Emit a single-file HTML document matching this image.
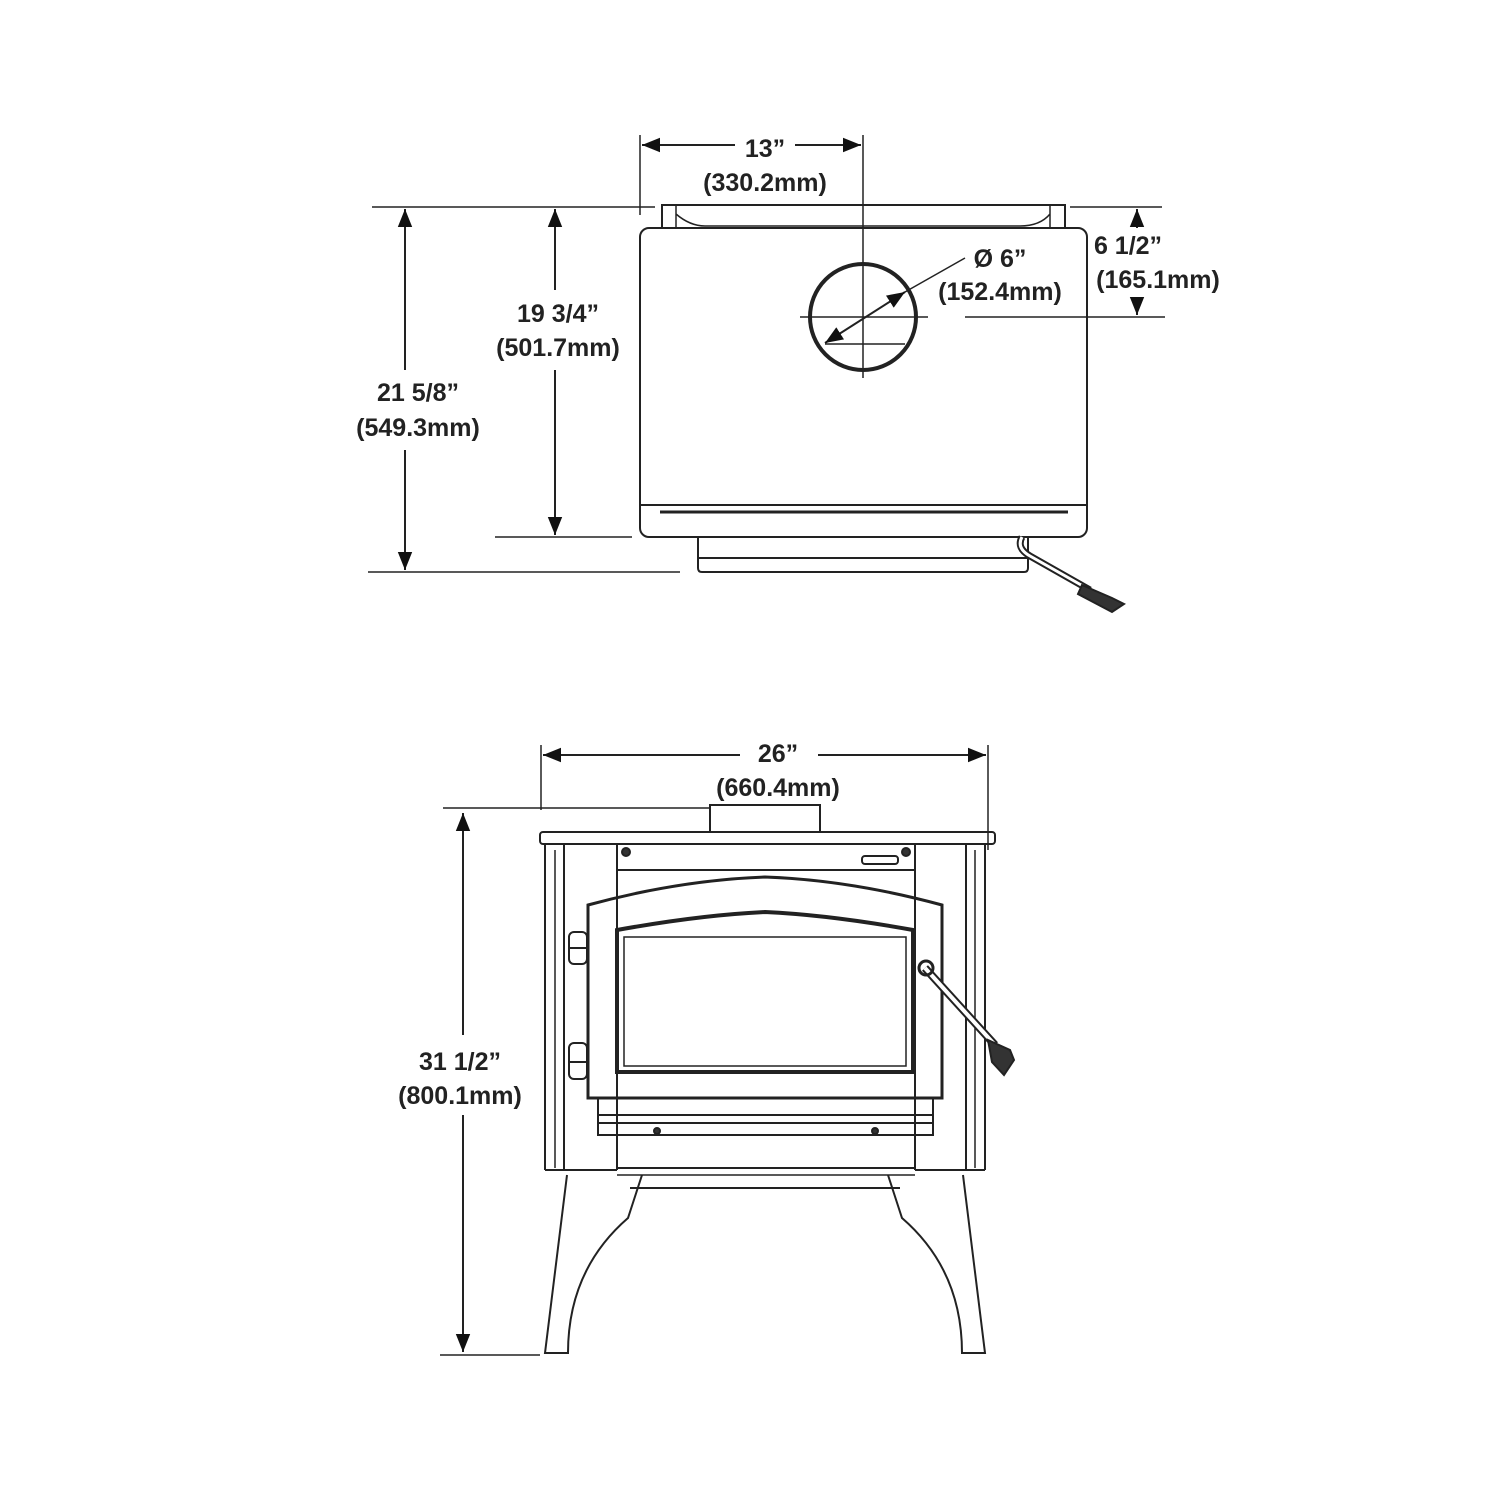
<!DOCTYPE html>
<html><head><style>html,body{margin:0;padding:0;background:#fff}svg{display:block}text{font-family:"Liberation Sans",Arial,sans-serif;font-weight:bold;font-size:25px;fill:#222;text-anchor:middle}</style></head>
<body>
<svg width="1500" height="1500" viewBox="0 0 1500 1500" xmlns="http://www.w3.org/2000/svg">
<defs>
<marker id="a" viewBox="0 0 10 10" refX="10" refY="5" markerWidth="9" markerHeight="9" orient="auto-start-reverse"><path d="M0,1 L10,5 L0,9 z" fill="#111"/></marker>
</defs>
<g stroke="#222" fill="none" stroke-width="2">
<!-- TOP VIEW -->
<path d="M662,228 V205 H1065 V228"/>
<path d="M676,206 V228 M1050,206 V228 M676,214 Q690,226 705,226 H1020 Q1040,226 1050,214" stroke-width="1.5"/>
<rect x="640" y="228" width="447" height="309" rx="9"/>
<line x1="640" y1="505" x2="1087" y2="505"/>
<line x1="660" y1="512" x2="1068" y2="512" stroke-width="3"/>
<path d="M698,537 V568 Q698,572 702,572 H1024 Q1028,572 1028,568 V537"/>
<line x1="698" y1="558" x2="1028" y2="558"/>
<circle cx="863" cy="317" r="53" stroke-width="4"/>
<line x1="800" y1="317" x2="928" y2="317" stroke-width="1.5"/>
<line x1="863" y1="135" x2="863" y2="378" stroke-width="1.5"/>
<line x1="825" y1="344" x2="905" y2="344" stroke-width="1.5"/>
<line x1="825" y1="343" x2="905" y2="292" marker-start="url(#a)" marker-end="url(#a)"/>
<line x1="905" y1="292" x2="965" y2="258" stroke-width="1.5"/>
<path d="M1022,537 Q1016,548 1030,556 L1090,590" stroke-width="7"/>
<path d="M1022,537 Q1016,548 1030,556 L1090,590" stroke="#fff" stroke-width="3"/>
<path d="M1082,585 L1112,598 L1124,604 L1112,612 L1078,594 z" fill="#333"/>
<!-- dims top -->
<line x1="640" y1="135" x2="640" y2="215" stroke-width="1.5"/>
<line x1="642" y1="145" x2="735" y2="145" marker-start="url(#a)"/>
<line x1="795" y1="145" x2="861" y2="145" marker-end="url(#a)"/>
<line x1="372" y1="207" x2="655" y2="207" stroke-width="1.5"/>
<line x1="368" y1="572" x2="680" y2="572" stroke-width="1.5"/>
<line x1="495" y1="537" x2="632" y2="537" stroke-width="1.5"/>
<line x1="405" y1="209" x2="405" y2="370" marker-start="url(#a)"/>
<line x1="405" y1="450" x2="405" y2="570" marker-end="url(#a)"/>
<line x1="555" y1="209" x2="555" y2="290" marker-start="url(#a)"/>
<line x1="555" y1="370" x2="555" y2="535" marker-end="url(#a)"/>
<line x1="1070" y1="207" x2="1162" y2="207" stroke-width="1.5"/>
<line x1="965" y1="317" x2="1165" y2="317" stroke-width="1.5"/>
<line x1="1137" y1="209" x2="1137" y2="228" marker-start="url(#a)"/>
<line x1="1137" y1="298" x2="1137" y2="315" marker-end="url(#a)"/>
<!-- FRONT VIEW -->
<rect x="710" y="805" width="110" height="27"/>
<rect x="540" y="832" width="455" height="12" rx="3"/>
<line x1="545" y1="844" x2="545" y2="1170"/>
<line x1="985" y1="844" x2="985" y2="1170"/>
<line x1="555" y1="850" x2="555" y2="1168" stroke-width="1.5"/>
<line x1="975" y1="850" x2="975" y2="1168" stroke-width="1.5"/>
<line x1="564" y1="844" x2="564" y2="1170"/>
<line x1="966" y1="844" x2="966" y2="1170"/>
<line x1="545" y1="1170" x2="617" y2="1170"/>
<line x1="915" y1="1170" x2="985" y2="1170"/>
<line x1="617" y1="844" x2="617" y2="1170"/>
<line x1="915" y1="844" x2="915" y2="1170"/>
<line x1="617" y1="870" x2="915" y2="870"/>
<line x1="617" y1="1168" x2="915" y2="1168"/>
<line x1="617" y1="1175" x2="915" y2="1175" stroke-width="1.5"/>
<circle cx="626" cy="852" r="4" fill="#333"/>
<circle cx="906" cy="852" r="4" fill="#333"/>
<rect x="862" y="856" width="36" height="8" rx="3"/>
<path d="M588,1098 V905 Q680,880 765,877 Q850,880 942,905 V1098 Z" stroke-width="3"/>
<path d="M617,1072 V930 Q700,915 765,912 Q830,915 913,930 V1072 Z" stroke-width="4"/>
<rect x="624" y="937" width="282" height="129" stroke-width="1.5"/>
<rect x="569" y="932" width="18" height="32" rx="5"/>
<rect x="569" y="1043" width="18" height="36" rx="5"/>
<line x1="569" y1="948" x2="587" y2="948"/><line x1="569" y1="1062" x2="587" y2="1062"/>
<line x1="598" y1="1098" x2="598" y2="1115"/><line x1="933" y1="1098" x2="933" y2="1115"/>
<rect x="598" y="1115" width="335" height="20"/>
<line x1="598" y1="1123" x2="933" y2="1123"/>
<circle cx="657" cy="1131" r="3" fill="#333"/><circle cx="875" cy="1131" r="3" fill="#333"/>
<line x1="925" y1="968" x2="995" y2="1045" stroke-width="8"/>
<line x1="925" y1="968" x2="995" y2="1045" stroke="#fff" stroke-width="4"/>
<circle cx="926" cy="968" r="7" stroke-width="3"/>
<path d="M988,1040 L1010,1050 L1014,1060 L1004,1075 L992,1062 z" fill="#333"/>
<!-- legs -->
<path d="M567,1175 L545,1353 H568 Q568,1270 628,1218 L642,1175"/>
<path d="M963,1175 L985,1353 H962 Q962,1270 902,1218 L888,1175"/>
<line x1="630" y1="1188" x2="900" y2="1188"/>
<!-- dims front -->
<line x1="541" y1="745" x2="541" y2="810" stroke-width="1.5"/>
<line x1="988" y1="745" x2="988" y2="850" stroke-width="1.5"/>
<line x1="543" y1="755" x2="740" y2="755" marker-start="url(#a)"/>
<line x1="818" y1="755" x2="986" y2="755" marker-end="url(#a)"/>
<line x1="443" y1="808" x2="710" y2="808" stroke-width="1.5"/>
<line x1="440" y1="1355" x2="540" y2="1355" stroke-width="1.5"/>
<line x1="463" y1="813" x2="463" y2="1035" marker-start="url(#a)"/>
<line x1="463" y1="1115" x2="463" y2="1352" marker-end="url(#a)"/>
</g>
<text x="765" y="157">13”</text>
<text x="765" y="191">(330.2mm)</text>
<text x="418" y="401">21 5/8”</text>
<text x="418" y="436">(549.3mm)</text>
<text x="558" y="322">19 3/4”</text>
<text x="558" y="356">(501.7mm)</text>
<text x="1000" y="267">Ø 6”</text>
<text x="1000" y="300">(152.4mm)</text>
<text x="1128" y="254">6 1/2”</text>
<text x="1158" y="288">(165.1mm)</text>
<text x="778" y="762">26”</text>
<text x="778" y="796">(660.4mm)</text>
<text x="460" y="1070">31 1/2”</text>
<text x="460" y="1104">(800.1mm)</text>
</svg>
</body></html>
